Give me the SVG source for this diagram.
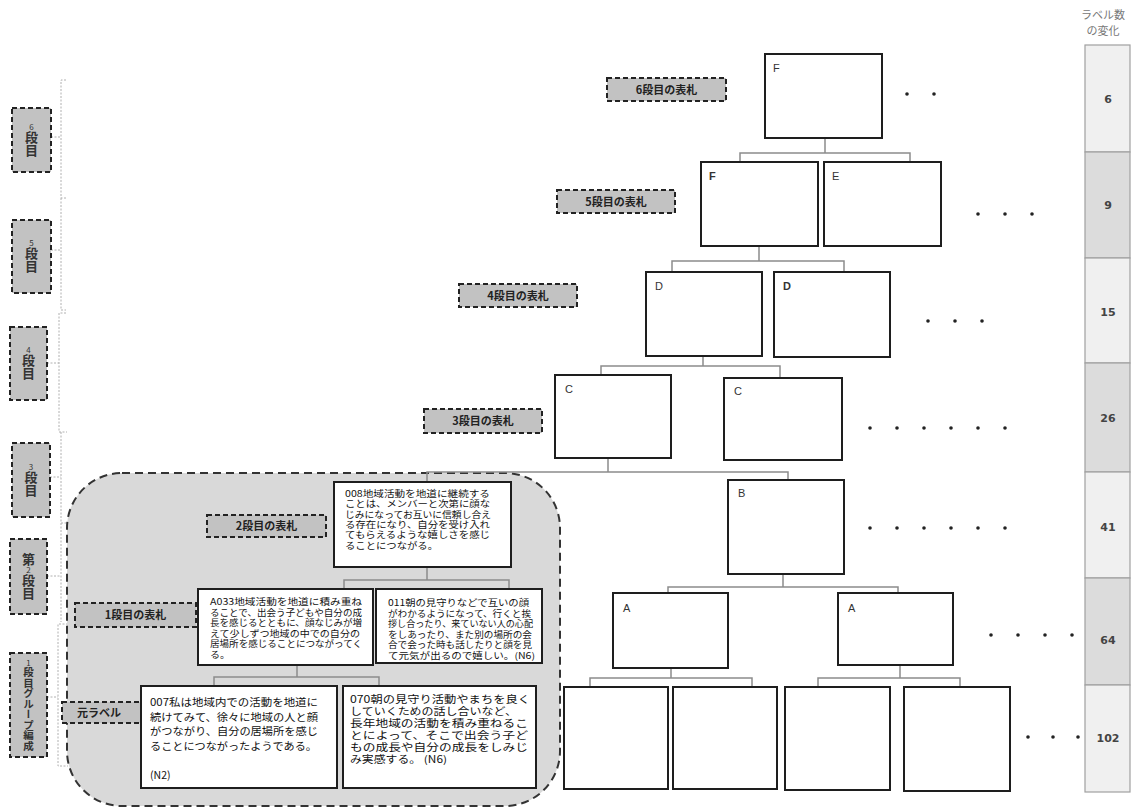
<svg xmlns="http://www.w3.org/2000/svg" width="1138" height="809" viewBox="0 0 1138 809">
  <style>
    .tag { fill: #c2c2c2; stroke: #222; stroke-width: 2; stroke-dasharray: 5 3; }
    .tagt { font-family: "Noto Sans CJK JP", "Noto Sans", sans-serif; font-size: 11px; font-weight: bold; fill: #222; text-anchor: middle; }
    .vt { font-family: "Noto Sans CJK JP", sans-serif; font-size: 13px; font-weight: bold; fill: #333; text-anchor: middle; writing-mode: vertical-rl; text-orientation: upright; }
    .vt .n { font-size: 8px; font-weight: normal; }
    .nd { fill: #fff; stroke: #1e1e1e; stroke-width: 2; }
    .cn { fill: none; stroke: #8c8c8c; stroke-width: 1.5; }
    .br { fill: none; stroke: #b0b0b0; stroke-width: 1; stroke-dasharray: 2 1.5; }
    .lt { font-family: "Liberation Sans", Arial, sans-serif; font-size: 11px; fill: #333; }
    .bt { font-family: "Noto Sans CJK JP", sans-serif; fill: #111; }
    .dot { fill: #222; }
    .cnt { font-family: "DejaVu Sans", sans-serif; font-size: 11px; font-weight: bold; fill: #444; text-anchor: middle; }
    .hdr { font-family: "Noto Sans CJK JP", sans-serif; font-size: 11px; fill: #777; text-anchor: middle; }
  </style>

  <!-- level brackets along the left edge -->
  <g id="brackets">
    <path class="br" d="M66,80 H61 V198 H66 M51,137 H61"/>
    <path class="br" d="M61,198 V310 H66 M51,250 H61"/>
    <path class="br" d="M66,313 H59 V432 H67 M47,363 H59"/>
    <path class="br" d="M61,432 V523 H66 M50,477 H61"/>
    <path class="br" d="M61,523 V622 M47,576 H61"/>
    <path class="br" d="M68,624 H58 V766 H68 M47,697 H58"/>
  </g>

  <!-- vertical level tags -->
  <g id="lv6"><rect class="tag" x="12" y="108" width="39" height="64"/><text class="vt" x="31.5" y="140"><tspan class="n">6</tspan>段目</text></g>
  <g id="lv5"><rect class="tag" x="12" y="220" width="39" height="73"/><text class="vt" x="31.5" y="256"><tspan class="n">5</tspan>段目</text></g>
  <g id="lv4"><rect class="tag" x="10" y="327" width="37" height="73"/><text class="vt" x="28.5" y="363"><tspan class="n">4</tspan>段目</text></g>
  <g id="lv3"><rect class="tag" x="12" y="443" width="38" height="74"/><text class="vt" x="31" y="480"><tspan class="n">3</tspan>段目</text></g>
  <g id="lv2"><rect class="tag" x="10" y="539" width="37" height="75"/><text class="vt" x="28.5" y="576">第<tspan class="n">2</tspan>段目</text></g>
  <g id="lv1"><rect class="tag" x="10" y="653" width="37" height="104"/><text class="vt" x="28.5" y="705" style="font-size:10.5px"><tspan class="n">1</tspan>段目グループ編成</text></g>

  <!-- shaded group region -->
  <g id="group-region">
    <rect x="67" y="473" width="493" height="333" rx="55" fill="#d9d9d9" stroke="#333" stroke-width="2" stroke-dasharray="8 5"/>
  </g>

  <!-- connectors -->
  <g id="connectors">
    <path class="cn" d="M825,138 V153 M740,162 V153 H910 V162"/>
    <path class="cn" d="M759,246 V261 M672,272 V261 H844 V272"/>
    <path class="cn" d="M703,356 V366 M601,375 V366 H780 V378"/>
    <path class="cn" d="M608,458 V472 M427,482 V472 H788 V480"/>
    <path class="cn" d="M783,574 V587 M668,593 V587 H898 V593"/>
    <path class="cn" d="M671,668 V678 M590,687 V678 H752 V687"/>
    <path class="cn" d="M900,665 V678 M818,687 V678 H960 V687"/>
    <path class="cn" d="M427,567 V580 M344,589 V580 H509 V589"/>
    <path class="cn" d="M297,665 V677 M214,686 V677 H379 V686"/>
  </g>

  <!-- level title tags -->
  <g id="t6"><rect class="tag" x="607" y="78" width="119" height="23"/><text class="tagt" x="666.5" y="93.5">6段目の表札</text></g>
  <g id="t5"><rect class="tag" x="557" y="190" width="118" height="23"/><text class="tagt" x="616" y="205.5">5段目の表札</text></g>
  <g id="t4"><rect class="tag" x="459" y="284" width="118" height="23"/><text class="tagt" x="518" y="299.5">4段目の表札</text></g>
  <g id="t3"><rect class="tag" x="424" y="409" width="118" height="24"/><text class="tagt" x="483" y="425">3段目の表札</text></g>
  <g id="t2"><rect class="tag" x="207" y="515" width="119" height="22"/><text class="tagt" x="266.5" y="530">2段目の表札</text></g>
  <g id="t1"><rect class="tag" x="75" y="603" width="121" height="24"/><text class="tagt" x="135.5" y="619">1段目の表札</text></g>
  <g id="t0"><rect class="tag" x="62" y="702" width="88" height="21"/><text class="tagt" x="99" y="716.5">元ラベル</text></g>

  <!-- tree nodes -->
  <g id="nF"><rect class="nd" x="765" y="54" width="117" height="84"/><text class="lt" x="773" y="72">F</text></g>
  <g id="nE1"><rect class="nd" x="701" y="162" width="117" height="84"/><text class="lt" x="709" y="180" font-weight="bold">F</text></g>
  <g id="nE2"><rect class="nd" x="824" y="162" width="117" height="84"/><text class="lt" x="832" y="180" fill="#777">E</text></g>
  <g id="nD1"><rect class="nd" x="646" y="272" width="116" height="84"/><text class="lt" x="655" y="290">D</text></g>
  <g id="nD2"><rect class="nd" x="774" y="272" width="116" height="85"/><text class="lt" x="783" y="290" font-weight="bold">D</text></g>
  <g id="nC1"><rect class="nd" x="555" y="375" width="116" height="83"/><text class="lt" x="565" y="393">C</text></g>
  <g id="nC2"><rect class="nd" x="724" y="378" width="118" height="82"/><text class="lt" x="734" y="395" fill="#666">C</text></g>
  <g id="nB"><rect class="nd" x="728" y="480" width="116" height="94"/><text class="lt" x="738" y="497">B</text></g>
  <g id="nA1"><rect class="nd" x="613" y="593" width="115" height="75"/><text class="lt" x="623" y="612">A</text></g>
  <g id="nA2"><rect class="nd" x="838" y="593" width="115" height="72"/><text class="lt" x="848" y="612">A</text></g>
  <g id="n01"><rect class="nd" x="564" y="687" width="104" height="102"/></g>
  <g id="n02"><rect class="nd" x="673" y="687" width="104" height="102"/></g>
  <g id="n03"><rect class="nd" x="785" y="687" width="105" height="103"/></g>
  <g id="n04"><rect class="nd" x="904" y="687" width="106" height="104"/></g>

  <!-- example labels inside the group region -->
  <g id="n008">
    <rect class="nd" x="334" y="482" width="177" height="85"/>
    <text class="bt" font-size="9">
      <tspan x="345" y="497" textLength="145" lengthAdjust="spacingAndGlyphs">008地域活動を地道に継続する</tspan>
      <tspan x="345" y="507.3" textLength="145" lengthAdjust="spacingAndGlyphs">ことは、メンバーと次第に顔な</tspan>
      <tspan x="345" y="517.6" textLength="146" lengthAdjust="spacingAndGlyphs">じみになってお互いに信頼し合え</tspan>
      <tspan x="345" y="527.9" textLength="145" lengthAdjust="spacingAndGlyphs">る存在になり、自分を受け入れ</tspan>
      <tspan x="345" y="538.2" textLength="145" lengthAdjust="spacingAndGlyphs">てもらえるような嬉しさを感じ</tspan>
      <tspan x="345" y="548.5" textLength="93" lengthAdjust="spacingAndGlyphs">ることにつながる。</tspan>
    </text>
  </g>
  <g id="nA033">
    <rect class="nd" x="198" y="589" width="175" height="76"/>
    <text class="bt" font-size="9">
      <tspan x="210" y="605" textLength="152" lengthAdjust="spacingAndGlyphs">A033地域活動を地道に積み重ね</tspan>
      <tspan x="210" y="615.6" textLength="152" lengthAdjust="spacingAndGlyphs">ることで、出会う子どもや自分の成</tspan>
      <tspan x="210" y="626.2" textLength="152" lengthAdjust="spacingAndGlyphs">長を感じるとともに、顔なじみが増</tspan>
      <tspan x="210" y="636.8" textLength="150" lengthAdjust="spacingAndGlyphs">えて少しずつ地域の中での自分の</tspan>
      <tspan x="210" y="647.4" textLength="152" lengthAdjust="spacingAndGlyphs">居場所を感じることにつながってく</tspan>
      <tspan x="210" y="658" textLength="20" lengthAdjust="spacingAndGlyphs">る。</tspan>
    </text>
  </g>
  <g id="n011">
    <rect class="nd" x="376" y="589" width="166" height="74"/>
    <text class="bt" font-size="9">
      <tspan x="388" y="606" textLength="141" lengthAdjust="spacingAndGlyphs">011朝の見守りなどで互いの顔</tspan>
      <tspan x="388" y="616.6" textLength="143" lengthAdjust="spacingAndGlyphs">がわかるようになって、行くと挨</tspan>
      <tspan x="388" y="627.2" textLength="145" lengthAdjust="spacingAndGlyphs">拶し合ったり、来ていない人の心配</tspan>
      <tspan x="388" y="637.8" textLength="144" lengthAdjust="spacingAndGlyphs">をしあったり、また別の場所の会</tspan>
      <tspan x="388" y="648.4" textLength="144" lengthAdjust="spacingAndGlyphs">合で会った時も話したりと顔を見</tspan>
      <tspan x="388" y="659" textLength="147" lengthAdjust="spacingAndGlyphs">て元気が出るので嬉しい。(N6)</tspan>
    </text>
  </g>
  <g id="n007">
    <rect class="nd" x="141" y="686" width="196" height="102"/>
    <text class="bt" font-size="10.5">
      <tspan x="150" y="706" textLength="168" lengthAdjust="spacingAndGlyphs">007私は地域内での活動を地道に</tspan>
      <tspan x="150" y="720.5" textLength="168" lengthAdjust="spacingAndGlyphs">続けてみて、徐々に地域の人と顔</tspan>
      <tspan x="150" y="735" textLength="168" lengthAdjust="spacingAndGlyphs">がつながり、自分の居場所を感じ</tspan>
      <tspan x="150" y="749.5" textLength="167" lengthAdjust="spacingAndGlyphs">ることにつながったようである。</tspan>
      <tspan x="150" y="779">(N2)</tspan>
    </text>
  </g>
  <g id="n070">
    <rect class="nd" x="343" y="686" width="193" height="102"/>
    <text class="bt" font-size="10">
      <tspan x="350" y="703" textLength="180" lengthAdjust="spacingAndGlyphs">070朝の見守り活動やまちを良く</tspan>
      <tspan x="350" y="714.9" textLength="167" lengthAdjust="spacingAndGlyphs">していくための話し合いなど、</tspan>
      <tspan x="350" y="726.8" textLength="178" lengthAdjust="spacingAndGlyphs">長年地域の活動を積み重ねるこ</tspan>
      <tspan x="350" y="738.7" textLength="178" lengthAdjust="spacingAndGlyphs">とによって、そこで出会う子ど</tspan>
      <tspan x="350" y="750.6" textLength="178" lengthAdjust="spacingAndGlyphs">もの成長や自分の成長をしみじ</tspan>
      <tspan x="350" y="762.5" textLength="97" lengthAdjust="spacingAndGlyphs">み実感する。 (N6)</tspan>
    </text>
  </g>

  <!-- continuation dots -->
  <g id="dots">
    <circle class="dot" cx="907" cy="94" r="1.8"/><circle class="dot" cx="934" cy="94" r="1.8"/>
    <circle class="dot" cx="978" cy="214" r="1.8"/><circle class="dot" cx="1005" cy="214" r="1.8"/><circle class="dot" cx="1032" cy="214" r="1.8"/>
    <circle class="dot" cx="928" cy="321" r="1.8"/><circle class="dot" cx="955" cy="321" r="1.8"/><circle class="dot" cx="982" cy="321" r="1.8"/>
    <circle class="dot" cx="870" cy="428" r="1.8"/><circle class="dot" cx="897" cy="428" r="1.8"/><circle class="dot" cx="924" cy="428" r="1.8"/><circle class="dot" cx="951" cy="428" r="1.8"/><circle class="dot" cx="978" cy="428" r="1.8"/><circle class="dot" cx="1005" cy="428" r="1.8"/>
    <circle class="dot" cx="870" cy="528" r="1.8"/><circle class="dot" cx="897" cy="528" r="1.8"/><circle class="dot" cx="924" cy="528" r="1.8"/><circle class="dot" cx="951" cy="528" r="1.8"/><circle class="dot" cx="978" cy="528" r="1.8"/><circle class="dot" cx="1005" cy="528" r="1.8"/>
    <circle class="dot" cx="991" cy="635" r="1.8"/><circle class="dot" cx="1018" cy="635" r="1.8"/><circle class="dot" cx="1045" cy="635" r="1.8"/><circle class="dot" cx="1072" cy="635" r="1.8"/>
    <circle class="dot" cx="1028" cy="737" r="1.8"/><circle class="dot" cx="1053" cy="737" r="1.8"/><circle class="dot" cx="1078" cy="737" r="1.8"/>
  </g>

  <!-- label count column -->
  <g id="counts">
    <text class="hdr" x="1103" y="19">ラベル数</text>
    <text class="hdr" x="1103" y="35">の変化</text>
    <g stroke="#a0a0a0" stroke-width="1.2">
      <rect x="1085" y="45" width="45" height="107" fill="#f0f0f0"/>
      <rect x="1085" y="152" width="45" height="106" fill="#dcdcdc"/>
      <rect x="1085" y="258" width="45" height="105" fill="#f0f0f0"/>
      <rect x="1085" y="363" width="45" height="109" fill="#dcdcdc"/>
      <rect x="1085" y="472" width="45" height="106" fill="#f0f0f0"/>
      <rect x="1085" y="578" width="45" height="107" fill="#dcdcdc"/>
      <rect x="1085" y="685" width="45" height="107" fill="#f0f0f0"/>
    </g>
    <text class="cnt" x="1108" y="103">6</text>
    <text class="cnt" x="1108" y="209">9</text>
    <text class="cnt" x="1108" y="316">15</text>
    <text class="cnt" x="1108" y="422">26</text>
    <text class="cnt" x="1108" y="531">41</text>
    <text class="cnt" x="1108" y="644">64</text>
    <text class="cnt" x="1108" y="742">102</text>
  </g>
</svg>
